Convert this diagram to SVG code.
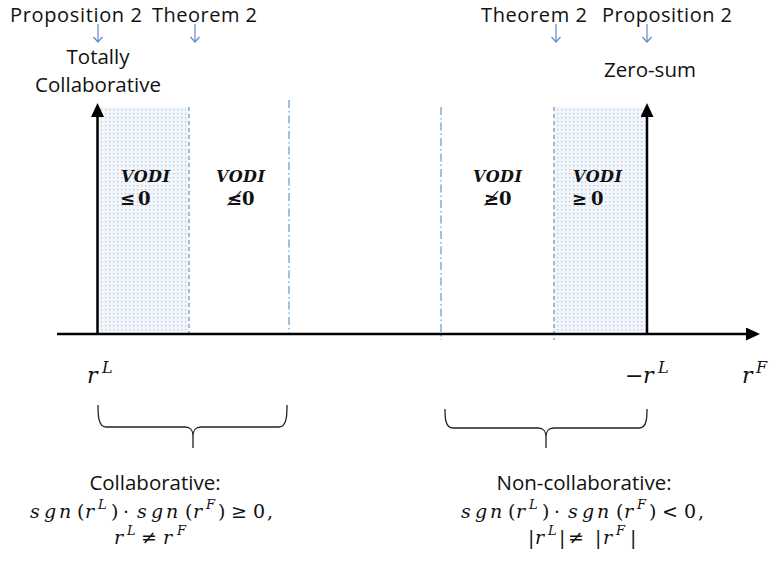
<svg xmlns="http://www.w3.org/2000/svg" width="777" height="563" viewBox="0 0 777 563">
<style>
.lbl{font-family:"Open Sans","Liberation Sans",sans-serif;font-size:20.5px;fill:#111}
.top{font-size:20px}
.math{font-family:"DejaVu Serif","Liberation Serif",serif;font-style:italic;font-size:19px;fill:#111}
.sup{font-size:13px}
.rl{font-family:"DejaVu Serif","Liberation Serif",serif;font-style:italic;font-size:22px;fill:#111}
.rsup{font-size:16px}
.vodi{font-family:"DejaVu Serif","Liberation Serif",serif;font-style:italic;font-weight:bold;font-size:16px;fill:#111;letter-spacing:0.5px}
.rel{font-family:"DejaVu Serif","Liberation Serif",serif;font-weight:bold;font-size:18px;fill:#111}
.axis{stroke:#000;stroke-width:2.5;fill:none}
.dash{stroke:#4a7ebb;stroke-width:1;stroke-dasharray:4 3;fill:none}
.dashdot{stroke:#4a7ebb;stroke-width:1;stroke-dasharray:8 3 1.5 3;fill:none}
.ptr{stroke:#5a8ac6;stroke-width:1.2;fill:none}
.brace{stroke:#222;stroke-width:1.3;fill:none}
</style>
<defs>
<pattern id="dots" width="4" height="4" patternUnits="userSpaceOnUse">
<rect width="4" height="4" fill="#f3f6fb"/>
<rect x="1" y="1" width="1.3" height="1.3" fill="#b3c7e3"/>
</pattern>
<marker id="ah" markerWidth="14" markerHeight="13" refX="4" refY="6.5" orient="auto" markerUnits="userSpaceOnUse">
<path d="M0,0 L14,6.5 L0,13 z" fill="#000"/>
</marker>
</defs>

<g id="regions">
<rect id="region-left" x="98" y="107" width="91" height="226" fill="url(#dots)"/>
<rect id="region-right" x="554" y="107" width="93" height="226" fill="url(#dots)"/>
</g>

<g id="boundaries">
<line class="dash" x1="189" y1="107" x2="189" y2="334"/>
<line class="dashdot" x1="289" y1="100" x2="289" y2="334"/>
<line class="dashdot" x1="441" y1="107" x2="441" y2="340"/>
<line class="dash" x1="554" y1="107" x2="554" y2="340"/>
</g>

<g id="axes">
<line class="axis" x1="57" y1="334" x2="750" y2="334" marker-end="url(#ah)"/>
<line class="axis" x1="97.5" y1="334" x2="97.5" y2="113" marker-end="url(#ah)"/>
<line class="axis" x1="647" y1="334" x2="647" y2="113" marker-end="url(#ah)"/>
</g>

<g id="top-labels">
<text class="lbl top" x="10" y="21.5" textLength="132">Proposition 2</text>
<text class="lbl top" x="152" y="21.5" textLength="105">Theorem 2</text>
<text class="lbl top" x="481" y="21.5" textLength="106">Theorem 2</text>
<text class="lbl top" x="602" y="21.5" textLength="130">Proposition 2</text>
</g>

<g id="connectors">
<g id="ptr1"><line class="ptr" x1="98" y1="24" x2="98" y2="42"/><path class="ptr" d="M93.5,37 L98,42 L102.5,37"/></g>
<g id="ptr2"><line class="ptr" x1="195" y1="24" x2="195" y2="42"/><path class="ptr" d="M190.5,37 L195,42 L199.5,37"/></g>
<g id="ptr3"><line class="ptr" x1="556" y1="24" x2="556" y2="42"/><path class="ptr" d="M551.5,37 L556,42 L560.5,37"/></g>
<g id="ptr4"><line class="ptr" x1="647" y1="24" x2="647" y2="42"/><path class="ptr" d="M642.5,37 L647,42 L651.5,37"/></g>
</g>

<g id="node-totally">
<text class="lbl" x="98" y="64" text-anchor="middle">Totally</text>
<text class="lbl" x="98" y="92" text-anchor="middle">Collaborative</text>
</g>
<g id="node-zerosum">
<text class="lbl" x="650" y="77" text-anchor="middle">Zero-sum</text>
</g>

<g id="node-vodi1">
<text class="vodi" x="121" y="182">VODI</text>
<text class="rel" y="205"><tspan x="120">≤</tspan><tspan x="138">0</tspan></text>
</g>
<g id="node-vodi2">
<text class="vodi" x="216" y="182">VODI</text>
<text class="rel" x="227" y="205">≰0</text>
</g>
<g id="node-vodi3">
<text class="vodi" x="473" y="182">VODI</text>
<text class="rel" x="484" y="205">≱0</text>
</g>
<g id="node-vodi4">
<text class="vodi" x="573" y="182">VODI</text>
<text class="rel" y="205"><tspan x="572">≥</tspan><tspan x="591">0</tspan></text>
</g>

<g id="axis-labels">
<text class="rl" y="383"><tspan x="87">r</tspan><tspan class="rsup" x="102" y="373">L</tspan></text>
<text class="rl" y="383"><tspan x="625" font-style="normal">−</tspan><tspan x="643">r</tspan><tspan class="rsup" x="658" y="373">L</tspan></text>
<text class="rl" y="383"><tspan x="742">r</tspan><tspan class="rsup" x="756" y="373">F</tspan></text>
</g>

<g id="braces">
<path class="brace" d="M98,405 C98,414 98,427 106,427 L185,427 C191,427 193,430 193,437 L193,448 M193,437 C193,430 195,427 201,427 L279,427 C287,427 287,414 287,405"/>
<path class="brace" d="M445,409 C445,417 445,428 453,428 L538,428 C544,428 546,431 546,438 L546,448 M546,438 C546,431 548,428 554,428 L639,428 C647,428 647,417 647,409"/>
</g>

<g id="node-collab">
<text class="lbl" x="155" y="490" text-anchor="middle">Collaborative:</text>
<text class="math" y="518"><tspan x="30">s</tspan><tspan x="44">g</tspan><tspan x="59">n</tspan><tspan x="77" font-style="normal">(</tspan><tspan x="85">r</tspan><tspan class="sup" x="98" y="509">L</tspan><tspan x="111" y="518" font-style="normal">)</tspan><tspan x="123" font-style="normal">·</tspan><tspan x="137">s</tspan><tspan x="151">g</tspan><tspan x="166">n</tspan><tspan x="185" font-style="normal">(</tspan><tspan x="193">r</tspan><tspan class="sup" x="206" y="509">F</tspan><tspan x="218" y="518" font-style="normal">)</tspan><tspan x="231" font-style="normal">≥</tspan><tspan x="253" font-style="normal">0</tspan><tspan x="267" font-style="normal">,</tspan></text>
<text class="math" y="544"><tspan x="114">r</tspan><tspan class="sup" x="127" y="535">L</tspan><tspan x="141" y="544" font-style="normal">≠</tspan><tspan x="163">r</tspan><tspan class="sup" x="177" y="535">F</tspan></text>
</g>

<g id="node-noncollab">
<text class="lbl" x="584" y="490" text-anchor="middle">Non-collaborative:</text>
<text class="math" y="518"><tspan x="461">s</tspan><tspan x="475">g</tspan><tspan x="490">n</tspan><tspan x="508" font-style="normal">(</tspan><tspan x="516">r</tspan><tspan class="sup" x="529" y="509">L</tspan><tspan x="542" y="518" font-style="normal">)</tspan><tspan x="554" font-style="normal">·</tspan><tspan x="568">s</tspan><tspan x="582">g</tspan><tspan x="597">n</tspan><tspan x="616" font-style="normal">(</tspan><tspan x="624">r</tspan><tspan class="sup" x="637" y="509">F</tspan><tspan x="649" y="518" font-style="normal">)</tspan><tspan x="662" font-style="normal">&lt;</tspan><tspan x="684" font-style="normal">0</tspan><tspan x="698" font-style="normal">,</tspan></text>
<text class="math" y="544"><tspan x="528" font-style="normal">|</tspan><tspan x="535">r</tspan><tspan class="sup" x="548" y="535">L</tspan><tspan x="559" y="544" font-style="normal">|</tspan><tspan x="568" font-style="normal">≠</tspan><tspan x="595" font-style="normal">|</tspan><tspan x="603">r</tspan><tspan class="sup" x="616" y="535">F</tspan><tspan x="630" y="544" font-style="normal">|</tspan></text>
</g>
</svg>
